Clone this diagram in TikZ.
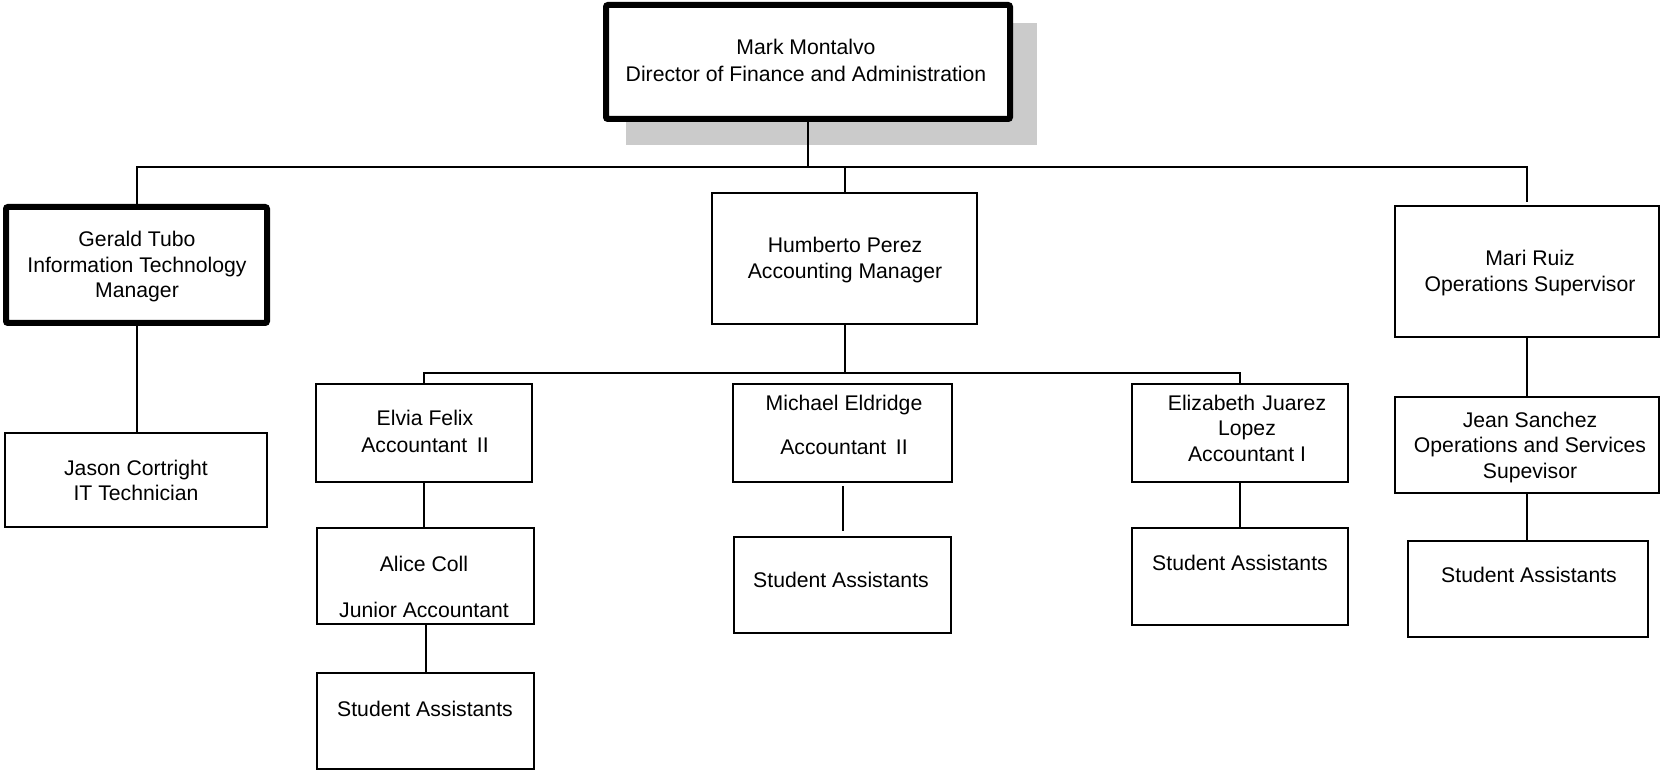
\documentclass[tikz,border=0pt]{standalone}
\usepackage{fontspec}
\setmainfont{Liberation Sans}
\definecolor{shadowc}{HTML}{CBCBCB}
\newcommand{\lines}[1]{\begin{tabular}[t]{@{}c@{}}#1\end{tabular}}
\begin{document}
\begin{tikzpicture}[x=0.5pt,y=-0.5pt,
  box/.style={draw, line width=1pt, fill=white, inner sep=0pt},
  thickbox/.style={box, line width=3pt, rounded corners=1pt},
  txt/.style={inner sep=0pt, anchor=base, font=\fontsize{10.6}{12.75}\selectfont},
  conn/.style={draw, line width=1pt}]
\useasboundingbox (0,0) rectangle (1660,770);
% shadow of the top box
\fill[shadowc] (626,23) rectangle (1037,145);
% boxes
\node[thickbox, minimum width=202pt, minimum height=57pt] (top) at (808,62) {};
\node[thickbox, minimum width=130.5pt, minimum height=58pt] (gerald) at (136.5,265) {};
\node[box, minimum width=131pt, minimum height=47pt] (jason) at (136,480) {};
\node[box, minimum width=132.5pt, minimum height=65.5pt] (humberto) at (844.5,258.5) {};
\node[box, minimum width=132pt, minimum height=65.5pt] (mari) at (1527,271.5) {};
\node[box, minimum width=108pt, minimum height=49pt] (elvia) at (424,433) {};
\node[box, minimum width=108.5pt, minimum height=48pt] (alice) at (425.5,576) {};
\node[box, minimum width=108.5pt, minimum height=48pt] (sa1) at (425.5,721) {};
\node[box, minimum width=109.5pt, minimum height=49pt] (michael) at (842.5,433) {};
\node[box, minimum width=108.5pt, minimum height=48pt] (sa2) at (842.5,585) {};
\node[box, minimum width=108pt, minimum height=49pt] (eliz) at (1240,433) {};
\node[box, minimum width=108pt, minimum height=48.5pt] (sa3) at (1240,576.5) {};
\node[box, minimum width=132pt, minimum height=48pt] (jean) at (1527,445) {};
\node[box, minimum width=120pt, minimum height=48pt] (sa4) at (1528,589) {};
% texts
\node[txt] (topT) at (806,55) {\lines{Mark Montalvo\\[0.75pt]Director of Finance and Administration}};
\node[txt] (geraldT) at (137,247) {\lines{Gerald Tubo\\Information Technology\\Manager}};
\node[txt] (jasonT) at (136,475) {\lines{Jason Cortright\\IT Technician}};
\node[txt] (humbertoT) at (845,253) {\lines{Humberto Perez\\Accounting Manager}};
\node[txt] (mariT) at (1530,266) {\lines{Mari Ruiz\\Operations Supervisor}};
\node[txt] (elviaT) at (425,425) {\lines{Elvia Felix\\[0.75pt]Accountant\hspace{0.45em}II}};
\node[txt] (aliceT) at (424,571) {\lines{Alice Coll\\[10.25pt]Junior Accountant}};
\node[txt] (sa1T) at (425,716) {\lines{Student Assistants}};
\node[txt] (michaelT) at (844,410) {\lines{Michael Eldridge\\[9.25pt]Accountant\hspace{0.45em}II}};
\node[txt] (sa2T) at (841,587) {\lines{Student Assistants}};
\node[txt] (elizT) at (1247,410) {\lines{Elizabeth\hspace{0.35em}Juarez\\Lopez\\Accountant I}};
\node[txt] (sa3T) at (1240,570) {\lines{Student Assistants}};
\node[txt] (jeanT) at (1530,427) {\lines{Jean Sanchez\\Operations and Services\\Supevisor}};
\node[txt] (sa4T) at (1529,582) {\lines{Student Assistants}};
% connectors
\coordinate (bus1) at (808,167.5);
\coordinate (bus2) at (844.5,373);
\draw[conn] (top.south) -- (bus1);
\draw[conn] (bus1) -| (gerald.north);
\draw[conn, shorten >=1.5pt] (bus1) -| (mari.north);
\draw[conn] (humberto.north) -- (humberto.north |- bus1);
\draw[conn] (humberto.south) -- (bus2);
\draw[conn] (elvia.north) |- (bus2) -| (eliz.north);
\draw[conn] (gerald.south) -- (gerald.south |- jason.north);
\draw[conn] (elvia.south) -- (elvia.south |- alice.north);
\draw[conn] (alice.south) -- (alice.south |- sa1.north);
\draw[conn, shorten <=1.5pt, shorten >=2.5pt] (michael.south) -- (sa2.north);
\draw[conn] (eliz.south) -- (sa3.north);
\draw[conn] (mari.south) -- (jean.north);
\draw[conn] (jean.south) -- (jean.south |- sa4.north);
\end{tikzpicture}
\end{document}
